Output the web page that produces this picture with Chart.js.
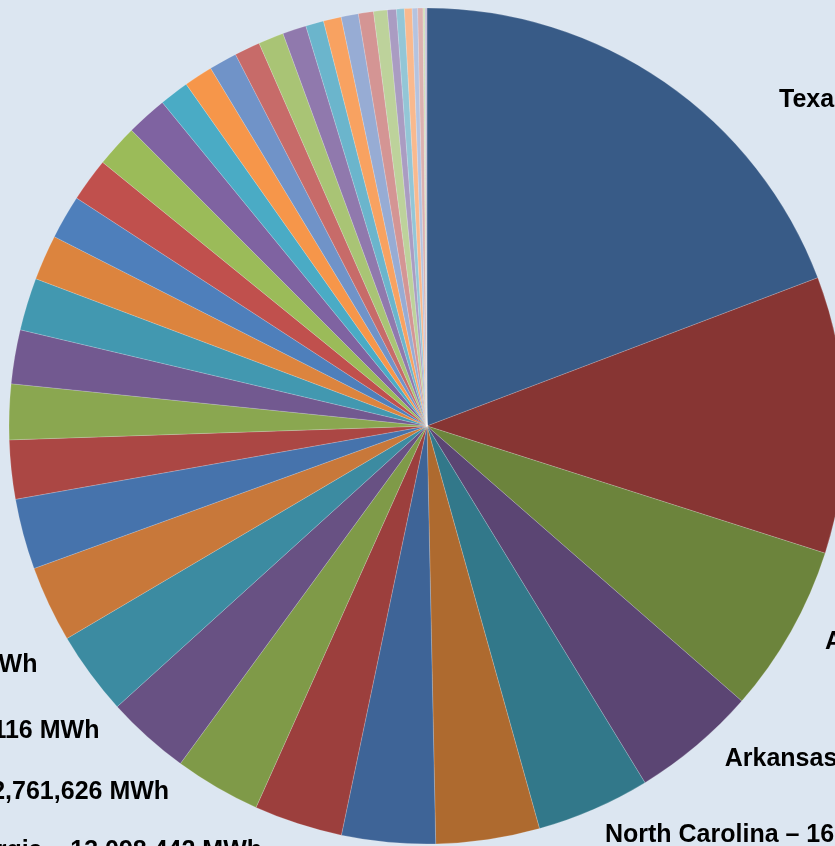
<!DOCTYPE html>
<html>
<head>
<meta charset="utf-8">
<script src="https://cdn.jsdelivr.net/npm/chart.js@4/dist/chart.umd.min.js"></script>
<style>
  html, body { margin: 0; padding: 0; background: #dce6f1; overflow: hidden; }
  #pie { position: absolute; left: 0; top: 0; }
</style>
</head>
<body>
<canvas id="pie" width="854" height="852"></canvas>
<script>
// Slice data, largest first (clockwise from 12 o'clock)
const states = [
  'Texas', 'Louisiana', 'Alabama', 'Arkansas', 'North Carolina', 'Ohio', 'Indiana',
  'Georgia', 'Pennsylvania', 'Kentucky', 'Tennessee', 'Mississippi', 'Virginia',
  'South Carolina', 'Florida', 'Oklahoma', 'Missouri', 'Illinois', 'West Virginia',
  'Michigan', 'Wisconsin', 'Iowa', 'Minnesota', 'Kansas', 'New York', 'Colorado',
  'New Mexico', 'Arizona', 'Utah', 'Nebraska', 'Wyoming', 'Montana', 'North Dakota',
  'Maryland', 'New Jersey', 'Washington', 'Oregon', 'Nevada', 'Delaware', 'Idaho'
];
const mwh = [
  73565012, 40917330, 24897561, 18513240, 16812907, 15324118, 13830455,
  13098442, 12761626, 12405116, 12361870, 11281904, 10432577,
  8719350, 8192466, 7981203, 7768915, 6702348, 6493710,
  6452081, 6279634, 6058227, 4361590, 4259873, 4148260, 3802145,
  3758932, 3508771, 2662408, 2641195, 2549863, 2231470, 2018652,
  1329845, 1168320, 1139507, 801264, 779918, 301552, 279806
];
// only the first slices have their labels inside the visible area
const labelledCount = 11;

const sliceColors = [
  '#385b87', '#873533', '#6c843c', '#5b4573', '#32788a', '#ae6a2f',
  '#3e6497', '#9c3f3d', '#7f9a48', '#685183', '#3c8ba1', '#c8783a',
  '#4673ac', '#ab4744', '#8aa750', '#725990', '#4298b0', '#dc843e',
  '#4e7fbb', '#c0504d', '#9bbb59', '#7f63a1', '#4aabc5', '#f6964a',
  '#7093c8', '#c76b69', '#a9c475', '#9079ad', '#6bb5cc', '#f8a261',
  '#97acd4', '#d49594', '#bdd29b', '#aa9cc2', '#93c6d6', '#f9b98e',
  '#b5c3df', '#dcb1b0', '#cfdeb8', '#c4bcd6'
];

// small nudges so labels don't collide (the first one sits further out)
const labelShift = {
  0: [101, 51],
  2: [1, 7],
  4: [-11, 6],
  7: [10, 13],
  10: [-7, 6]
};

const sliceLabels = {
  id: 'sliceLabels',
  afterDatasetsDraw(chart) {
    const ctx = chart.ctx;
    const arcs = chart.getDatasetMeta(0).data;
    ctx.save();
    ctx.font = 'bold 25px "Liberation Sans", Arial, sans-serif';
    ctx.fillStyle = '#000000';
    ctx.textBaseline = 'middle';
    arcs.slice(0, labelledCount).forEach((arc, i) => {
      const p = arc.getProps(['x', 'y', 'startAngle', 'endAngle', 'outerRadius'], true);
      let mid = (p.startAngle + p.endAngle) / 2;
      const right = Math.cos(mid) >= 0;
      mid += (right ? -1 : 5) * Math.PI / 180;
      const r = p.outerRadius + 30;
      const shift = labelShift[i] || [0, 0];
      const x = p.x + Math.cos(mid) * r + shift[0] + (right ? 3 : 0);
      const y = p.y + Math.sin(mid) * r + shift[1] + (right ? -4 : 0);
      ctx.textAlign = right ? 'left' : 'right';
      ctx.fillText(states[i] + ' \u2013 ' + mwh[i].toLocaleString('en-US') + ' MWh', x, y);
    });
    ctx.restore();
  }
};

const ctx = document.getElementById('pie').getContext('2d');
new Chart(ctx, {
  type: 'pie',
  data: {
    labels: states,
    datasets: [{
      data: mwh,
      backgroundColor: sliceColors,
      borderColor: 'rgba(255, 255, 255, 0.35)',
      borderWidth: 0.5,
      radius: 418
    }]
  },
  options: {
    responsive: false,
    animation: false,
    layout: { padding: 0 },
    plugins: {
      legend: { display: false },
      tooltip: { enabled: false }
    }
  },
  plugins: [sliceLabels]
});
</script>
</body>
</html>
